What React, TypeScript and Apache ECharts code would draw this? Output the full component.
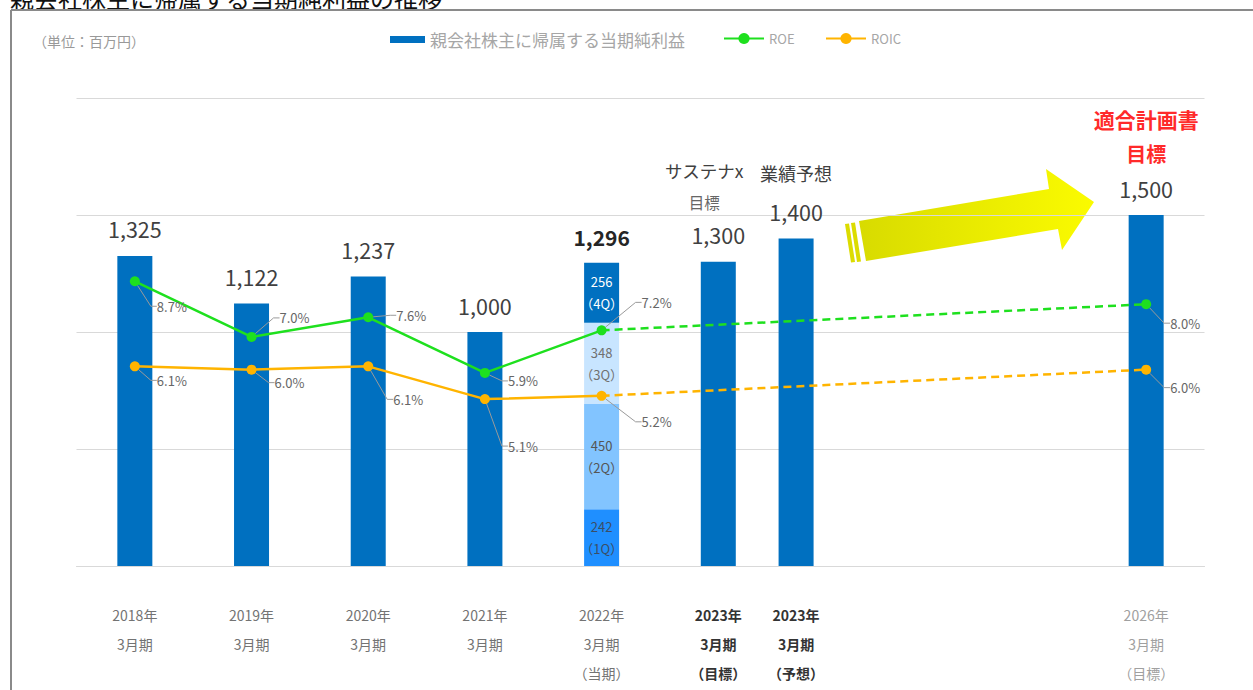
import React, { useEffect, useRef } from 'react';
import * as echarts from 'echarts';

const FONT = '"Noto Sans CJK JP", "Noto Sans", sans-serif';

const periodLabels = [
  '2018年\n3月期',
  '2019年\n3月期',
  '2020年\n3月期',
  '2021年\n3月期',
  '2022年\n3月期\n（当期）',
  '2023年\n3月期\n（目標）',
  '2023年\n3月期\n（予想）',
  '2026年\n3月期\n（目標）',
];
const periodSlots = [1, 4, 7, 10, 13, 16, 18, 27];
const slotCount = 29;

const profitName = '親会社株主に帰属する当期純利益';
const profitValues: (number | null)[] = [1325, 1122, 1237, 1000, null, 1300, 1400, 1500];
const periodNotes: string[][] = [[], [], [], [], [], ['サステナx', '目標'], ['業績予想'], ['適合計画書', '目標']];

const quarterNames = ['1Q', '2Q', '3Q', '4Q'];
const quarterValues = [242, 450, 348, 256];
const quarterPeriod = 4;

const roeActual = [8.7, 7.0, 7.6, 5.9, 7.2];
const roicActual = [6.1, 6.0, 6.1, 5.1, 5.2];
const targetPeriod = 7;
const roeTarget = 8.0;
const roicTarget = 6.0;

const unitText = '（単位：百万円）';
const titleText = '親会社株主に帰属する当期純利益の推移';

function slotArray(values: (number | null | object)[], periods: number[]) {
  const arr: any[] = new Array(slotCount).fill(null);
  periods.forEach((p, i) => {
    arr[periodSlots[p]] = values[i];
  });
  return arr;
}

const fmtNum = (v: number) => v.toLocaleString('en-US');

function buildOption() {
  const categories = new Array(slotCount).fill('');
  periodSlots.forEach((s, i) => (categories[s] = periodLabels[i]));
  const periodOfSlot = (slot: number) => periodSlots.indexOf(slot);

  const labelStyleOfPeriod = (k: number) => (k === 5 || k === 6 ? 'b' : k === 7 ? 'l' : 'n');

  const profitData = slotArray(profitValues, profitValues.map((_, i) => i));

  const quarterSeries = quarterNames.map((q, qi) => ({
    name: q,
    type: 'bar',
    stack: 'profit',
    barWidth: 35,
    data: slotArray([quarterValues[qi]], [quarterPeriod]),
    itemStyle: { color: ['#1f8fff', '#82c4ff', '#c8e5ff', '#0070c0'][qi] },
    label: {
      show: true,
      position: 'inside',
      fontFamily: FONT,
      fontSize: 13,
      lineHeight: 22,
      color: ['#3b4e66', '#555555', '#707070', '#ffffff'][qi],
      formatter: (p: any) => `${p.value}\n（${q}）`,
    },
    z: 2,
  }));

  const total = quarterValues.reduce((a, b) => a + b, 0);

  const roeShift: [number, number][] = [[12, 25], [18, -19], [18, -2], [13, 8], [30, -28], [0, 0], [0, 0], [14, 19]];
  const roicShift: [number, number][] = [[12, 14], [13, 13], [15, 33], [13, 47], [30, 26], [0, 0], [0, 0], [14, 18]];

  const lineLabel = {
    show: true,
    position: 'right',
    distance: 5,
    fontFamily: FONT,
    fontSize: 13,
    color: '#666666',
    formatter: (p: any) => (p.value == null ? '' : Number(p.value).toFixed(1) + '%'),
  };
  const labelLine = { show: true, length2: 6, lineStyle: { color: '#9a9a9a', width: 1 } };
  const layoutFor = (shift: [number, number][]) => (params: any) => {
    const k = periodOfSlot(params.dataIndex);
    if (k < 0) return {};
    return { dx: shift[k][0], dy: shift[k][1] };
  };

  const actualPeriods = roeActual.map((_, i) => i);
  const makeLine = (name: string, color: string, actual: number[], target: number, shift: [number, number][]) => [
    {
      name,
      type: 'line',
      yAxisIndex: 1,
      data: slotArray(actual, actualPeriods),
      connectNulls: true,
      symbol: 'circle',
      symbolSize: 10,
      itemStyle: { color },
      lineStyle: { color, width: 2.5 },
      label: lineLabel,
      labelLine,
      labelLayout: layoutFor(shift),
      z: 5,
    },
    {
      name: name + '目標',
      type: 'line',
      yAxisIndex: 1,
      data: slotArray(
        [{ value: actual[actual.length - 1], symbol: 'none', label: { show: false }, labelLine: { show: false } }, target],
        [actual.length - 1, targetPeriod]
      ),
      connectNulls: true,
      symbol: 'circle',
      symbolSize: 10,
      itemStyle: { color },
      lineStyle: { color, width: 2.5, type: [8, 5] },
      label: lineLabel,
      labelLine,
      labelLayout: layoutFor(shift),
      z: 4,
    },
  ];

  const legendText = { fontFamily: FONT, color: '#a6a6a6' };

  return {
    animation: false,
    backgroundColor: '#ffffff',
    textStyle: { fontFamily: FONT },
    grid: { left: 76.5, right: 48.5, top: 98, bottom: 124, containLabel: false, outerBoundsMode: 'none' },
    legend: [
      {
        data: [{ name: profitName, icon: 'rect' }],
        left: 385,
        top: 26,
        itemWidth: 35,
        itemHeight: 7,
        itemGap: 0,
        textStyle: { ...legendText, fontSize: 17 },
      },
      {
        data: ['ROE'],
        left: 718,
        top: 27,
        itemWidth: 40,
        itemHeight: 14,
        itemGap: 0,
        textStyle: { ...legendText, fontSize: 13 },
      },
      {
        data: ['ROIC'],
        left: 820,
        top: 27,
        itemWidth: 40,
        itemHeight: 14,
        textStyle: { ...legendText, fontSize: 13 },
      },
    ],
    xAxis: {
      type: 'category',
      data: categories,
      boundaryGap: true,
      axisTick: { show: false },
      axisLine: { lineStyle: { color: '#d9d9d9', width: 1 } },
      axisLabel: {
        interval: 0,
        margin: 34,
        formatter: (value: string, index: number) => {
          const k = periodOfSlot(index);
          if (k < 0 || !value) return '';
          const st = labelStyleOfPeriod(k);
          return value
            .split('\n')
            .map((s) => `{${st}|${s}}`)
            .join('\n');
        },
        rich: {
          n: { fontFamily: FONT, fontSize: 14, lineHeight: 29, color: '#737373' },
          b: { fontFamily: FONT, fontSize: 14, lineHeight: 29, color: '#333333', fontWeight: 'bold' },
          l: { fontFamily: FONT, fontSize: 14, lineHeight: 29, color: '#a0a0a0' },
        },
      },
    },
    yAxis: [
      {
        type: 'value',
        min: 0,
        max: 2000,
        interval: 500,
        axisLabel: { show: false },
        axisLine: { show: false },
        axisTick: { show: false },
        splitLine: { lineStyle: { color: '#d9d9d9', width: 1 } },
      },
      { type: 'value', min: 0, max: 14.3, show: false, splitLine: { show: false } },
    ],
    series: [
      {
        name: profitName,
        type: 'bar',
        stack: 'profit',
        barWidth: 35,
        data: profitData,
        itemStyle: { color: '#0070c0' },
        label: {
          show: true,
          position: 'top',
          distance: 15,
          formatter: (p: any) => {
            const k = periodOfSlot(p.dataIndex);
            if (k < 0 || p.value == null) return '';
            const v = `{v|${fmtNum(p.value)}}`;
            const notes = periodNotes[k];
            if (k === 5) return `{a|${notes[0]}}\n{s|${notes[1]}}\n${v}`;
            if (k === 6) return `{a2|${notes[0]}}\n${v}`;
            if (k === 7) return `{r1|${notes[0]}}\n{r2|${notes[1]}}\n${v}`;
            return v;
          },
          rich: {
            v: { fontFamily: FONT, fontSize: 21.5, lineHeight: 24, color: '#404040' },
            a: { fontFamily: FONT, fontSize: 17.5, lineHeight: 22, color: '#404040', padding: [0, 28, 0, 0] },
            s: { fontFamily: FONT, fontSize: 15.5, lineHeight: 41, color: '#666666', padding: [0, 28, 0, 0] },
            a2: { fontFamily: FONT, fontSize: 18, lineHeight: 53, color: '#404040' },
            r1: { fontFamily: FONT, fontSize: 21, lineHeight: 25, color: '#ff2a2a', fontWeight: 'bold' },
            r2: { fontFamily: FONT, fontSize: 20, lineHeight: 45, color: '#ff2a2a', fontWeight: 'bold' },
          },
        },
        z: 2,
      },
      ...quarterSeries,
      {
        name: '合計',
        type: 'bar',
        stack: 'profit',
        barWidth: 35,
        data: slotArray([0], [quarterPeriod]),
        itemStyle: { color: 'rgba(0,0,0,0)' },
        label: {
          show: true,
          position: 'top',
          distance: 15,
          fontFamily: FONT,
          fontSize: 21,
          fontWeight: 'bold',
          color: '#262626',
          formatter: () => fmtNum(total),
        },
        z: 2,
      },
      ...makeLine('ROE', '#1ee01e', roeActual, roeTarget, roeShift),
      ...makeLine('ROIC', '#ffb400', roicActual, roicTarget, roicShift),
    ],
    graphic: [
      {
        type: 'text',
        x: 10,
        y: 9,
        style: { text: titleText, fontFamily: FONT, fontSize: 24, fill: '#111111', verticalAlign: 'bottom' },
      },
      { type: 'line', shape: { x1: 11, y1: 10, x2: 1253, y2: 10 }, style: { stroke: '#8a8a8a', lineWidth: 2 } },
      { type: 'line', shape: { x1: 11, y1: 10, x2: 11, y2: 690 }, style: { stroke: '#8a8a8a', lineWidth: 2 } },
      {
        type: 'text',
        x: 33,
        y: 41,
        style: { text: unitText, fontFamily: FONT, fontSize: 14, fill: '#999999', verticalAlign: 'middle' },
      },
      {
        type: 'polygon',
        shape: { points: [[845, 224], [849, 223.5], [855, 262], [851, 262.5]] },
        style: { fill: '#dcdc00' },
      },
      {
        type: 'polygon',
        shape: { points: [[851, 223], [855, 222.5], [861, 261.5], [857, 262]] },
        style: { fill: '#dcdc00' },
      },
      {
        type: 'polygon',
        shape: {
          points: [[859, 221], [1049, 189], [1046, 169], [1094, 202], [1062, 250], [1058, 229], [866, 261]],
        },
        style: {
          fill: {
            type: 'linear',
            x: 0,
            y: 0,
            x2: 1,
            y2: 0,
            colorStops: [
              { offset: 0, color: '#d8db00' },
              { offset: 1, color: '#fbfb00' },
            ],
          },
        },
      },
    ],
  };
}

export default function App() {
  const ref = useRef<HTMLDivElement>(null);
  useEffect(() => {
    if (!ref.current) return;
    const chart = echarts.init(ref.current, undefined, { renderer: 'svg' });
    chart.setOption(buildOption() as any);
    return () => chart.dispose();
  }, []);
  return (
    <div
      ref={ref}
      style={{ position: 'absolute', left: 0, top: 0, width: 1253, height: 690, background: '#ffffff' }}
    />
  );
}
